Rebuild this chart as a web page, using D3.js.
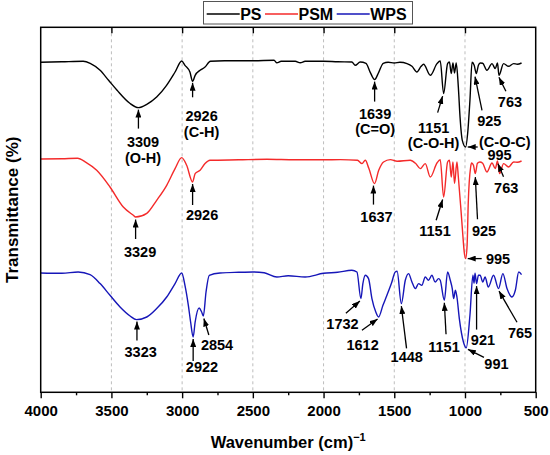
<!DOCTYPE html>
<html lang="en">
<head>
  <meta charset="UTF-8">
  <title>FTIR spectra PS / PSM / WPS</title>
  <script src="https://d3js.org/d3.v7.min.js"></script>
  <style>
    body { margin: 0; background: #fff; }
    text { font-family: "Liberation Sans", Arial, sans-serif; font-weight: bold; }
  </style>
</head>
<body>
  <div id="my_dataviz"></div>
  <script>
    // Spectra: wavenumber (cm-1) and transmittance (a.u., curves offset)
    var psWave = [4000,3850,3700,3650,3580,3520,3460,3370,3309,3250,3180,3110,3050,3003,2980,2945,2926,2908,2873,2840,2800,2700,2500,2350,2330,2300,2200,2165,2130,2000,1900,1800,1776,1741,1700,1670,1639,1610,1578,1543,1500,1460,1410,1375,1340,1310,1293,1245,1198,1175,1151,1123,1110,1097,1085,1074,1062,1047,1035,1019,995,981,965,950,935,920,905,892,875,845,809,786,770,760,727,692,656,630,600];
    var psT    = [330,330.5,331,329,322,312,302,289,284.7,288,295.3,307,320.3,331.3,327,320.3,311,317,322,325,331,331.5,331.5,332,329.5,331,331,329.5,331,331,330.5,330.3,327,330.3,329,320,312.7,320,329,330,329.3,330,328.7,326,320.3,326,328,317,328.7,331.3,298.7,328.7,330.3,318.7,329.3,319.3,329.3,305.3,275.3,252,245.3,259,292,330,327,318.7,327,329.3,329,322,328.7,323.7,329.3,317,328.7,326,328.7,328,329.3];

    var psmWave = [4000,3850,3740,3680,3604,3510,3416,3345,3329,3250,3180,3109,3050,3003,2968,2926,2908,2873,2838,2803,2600,2400,2200,2000,1882,1760,1728,1705,1680,1640,1610,1576,1528,1480,1387,1350,1316,1281,1245,1198,1175,1151,1123,1110,1097,1085,1074,1057,1047,1030,1016,1005,995,985,977,960,953,940,927,912,895,875,845,809,786,770,755,727,692,656,630,600];
    var psmT    = [233.3,233.5,234,230,222,205.3,185.3,177,175.3,179,192,207,223.7,234.7,227,210.3,218.7,222,228.7,232,232.5,233,232.5,232.5,232.7,232,228.7,232,224,208.7,222,230.3,232.7,231,232,229,223.7,228.7,215.3,229.3,232.5,195.3,230.3,232,215.3,230.3,208.7,230.3,215.3,185.3,158.7,140,133.7,147,189,225.3,229.3,227,218.7,229,230.3,229,220.3,229.3,223.7,231.3,218.7,228.7,225.3,230.3,230,231.3];

    var wpsWave = [4000,3850,3735,3651,3580,3510,3439,3368,3323,3250,3180,3109,3050,3003,2980,2956,2940,2922,2908,2880,2862,2850,2831,2808,2732,2600,2500,2420,2330,2250,2130,2000,1900,1800,1764,1736,1722,1705,1682,1658,1630,1611,1580,1552,1520,1493,1480,1450,1422,1399,1375,1351,1328,1305,1281,1258,1234,1211,1187,1175,1146,1123,1104,1090,1080,1068,1057,1040,1011,991,965,944,936,929,918,905,893,874,858,835,798,763,732,703,668,644,620,600];
    var wpsT    = [119.3,119,120.3,117.7,108.7,97,85.3,76.3,72.7,75.3,83.7,95.3,108.7,119.3,107,87,70.3,55.3,70.3,84.3,80.3,76.3,100.3,117,119.3,120,120.3,119.5,115.3,116.5,115.3,119,120,122,120.3,93.7,108.7,117,113.7,93.7,80,75.3,87,97,109,120.3,121,88.7,112,118.7,110.3,103.7,108.7,107,115.3,112,117,110.3,113.7,112,92,120.3,112,103.7,93.7,102,95.3,73.7,50.3,44.5,77,117,109,119,108.7,117,117,110.3,115.3,105.3,117,103.7,118.7,103.7,95.3,102,120.3,117.7];

    var seriesNames = ["PS", "PSM", "WPS"];
    var seriesColors = ["#000000", "#f42a2a", "#1616b8"];
    var xTicks = [4000, 3500, 3000, 2500, 2000, 1500, 1000, 500];
    var xMinorTicks = [3750, 3250, 2750, 2250, 1750, 1250, 750];

    // Peak labels: series, labelled wavenumber, text lines
    var peakSeries = ["PS","PS","PS","PS","PS","PS","PS","PSM","PSM","PSM","PSM","PSM","PSM","PSM","WPS","WPS","WPS","WPS","WPS","WPS","WPS","WPS","WPS","WPS"];
    var peakWave   = [3309,2926,1639,1151,995,925,763,3329,2926,1637,1151,925,763,995,3323,2922,2854,1732,1612,1448,1151,921,765,991];
    var peakText   = [["3309","(O-H)"],["2926","(C-H)"],["1639","(C=O)"],["1151","(C-O-H)"],["(C-O-C)","995"],["925"],["763"],
                      ["3329"],["2926"],["1637"],["1151"],["925"],["763"],["995"],
                      ["3323"],["2922"],["2854"],["1732"],["1612"],["1448"],["1151"],["921"],["765"],["991"]];

    // Arrow / label placement, pixel offsets from the peak point: tip, tail, label centre, line height
    var peakLayout = [
      {tip:[0,2],    tail:[0,21],     label:[4.6,33.7],  lh:16},
      {tip:[0,1.5],  tail:[0,16],     label:[9,34.5],    lh:16},
      {tip:[0,2],    tail:[0,22],     label:[0.5,34.5],  lh:15},
      {tip:[-1,2.5], tail:[-6,19],    label:[-10,34.3],  lh:14.5},
      {tip:[2,0],    tail:[12,0],     label:[36.5,-5.5], lh:13, ldx:[2.6,-2.6]},
      {tip:[-1.3,3], tail:[5.7,36.7], label:[13,46.7],   lh:15},
      {tip:[0,2],    tail:[7,16],     label:[11,26],     lh:15},
      {tip:[0,2.5],  tail:[0,22],     label:[4.5,35],    lh:15},
      {tip:[0,2],    tail:[0,23],     label:[9.5,32.3],  lh:15},
      {tip:[-1,2],   tail:[-1,21],    label:[2,32.7],    lh:15},
      {tip:[-1,2.5], tail:[-7.5,23.3],label:[-8.6,33.3], lh:15},
      {tip:[0,3.5],  tail:[2.2,45.7], label:[8.7,56.7],  lh:15},
      {tip:[0.5,2.7],tail:[6,15.7],   label:[8.7,26.7],  lh:15},
      {tip:[2,0],    tail:[16,0],     label:[32.3,0.2],  lh:15},
      {tip:[0.5,2],  tail:[0.5,21],   label:[4.2,32.2],  lh:15},
      {tip:[0,2],    tail:[0,24],     label:[8.8,29.3],  lh:15},
      {tip:[0.5,2.5],tail:[5.5,19],   label:[13.7,28.8], lh:15},
      {tip:[-1,2.5], tail:[-15,14.7], label:[-18.4,25.2],lh:15},
      {tip:[-1,2],   tail:[-16.6,13.3],label:[-16,27.3], lh:15},
      {tip:[0,2.5],  tail:[5.2,44.7], label:[5.4,52.7],  lh:15},
      {tip:[0,2.5],  tail:[1.7,34],   label:[-0.3,46],   lh:15},
      {tip:[0,2.5],  tail:[0,46],     label:[6.4,55.7],  lh:15},
      {tip:[0.5,2.5],tail:[18.5,33.7],label:[21.5,43.7], lh:15},
      {tip:[1.7,1.5],tail:[17.7,9.5], label:[30.2,15.5], lh:15}
    ];

    var spectra = {
      PS:  psWave.map(function(w, i) { return {w: w, t: psT[i]}; }),
      PSM: psmWave.map(function(w, i) { return {w: w, t: psmT[i]}; }),
      WPS: wpsWave.map(function(w, i) { return {w: w, t: wpsT[i]}; })
    };

    var W = 550, H = 455;
    var margin = {top: 27.3, right: 14.3, bottom: 62.7, left: 40.7},
        width = W - margin.left - margin.right,
        height = H - margin.top - margin.bottom;

    var svg = d3.select("#my_dataviz")
      .append("svg")
        .attr("width", W)
        .attr("height", H);

    var defs = svg.append("defs");
    defs.append("marker")
        .attr("id", "head")
        .attr("markerUnits", "userSpaceOnUse")
        .attr("viewBox", "0 0 8 6")
        .attr("refX", 8)
        .attr("refY", 3)
        .attr("markerWidth", 8)
        .attr("markerHeight", 6)
        .attr("orient", "auto")
      .append("path")
        .attr("d", "M0,0 L8,3 L0,6 Z")
        .attr("fill", "#000");

    var g = svg.append("g")
        .attr("transform", "translate(" + margin.left + "," + margin.top + ")");

    var x = d3.scaleLinear().domain([4000, 500]).range([0, width]);
    var y = d3.scaleLinear().domain([0, 365]).range([height, 0]);

    // dashed vertical grid
    g.append("g")
      .selectAll("line")
      .data(xTicks.slice(1, -1))
      .enter().append("line")
        .attr("x1", function(d) { return x(d); })
        .attr("x2", function(d) { return x(d); })
        .attr("y1", 0)
        .attr("y2", height)
        .attr("stroke", "#bdbdbd")
        .attr("stroke-width", 1)
        .attr("stroke-dasharray", "3,3");

    // spectra
    var line = d3.line()
        .x(function(d) { return x(d.w); })
        .y(function(d) { return y(d.t); })
        .curve(d3.curveMonotoneX);

    seriesNames.forEach(function(name, i) {
      g.append("path")
        .datum(spectra[name])
        .attr("fill", "none")
        .attr("stroke", seriesColors[i])
        .attr("stroke-width", 1.4)
        .attr("stroke-linejoin", "round")
        .attr("d", line);
    });

    // peak arrows and labels
    peakWave.forEach(function(w, i) {
      var pts = spectra[peakSeries[i]];
      var p = pts.reduce(function(a, b) { return Math.abs(b.w - w) < Math.abs(a.w - w) ? b : a; });
      var px = x(p.w), py = y(p.t), L = peakLayout[i];
      g.append("line")
        .attr("x1", px + L.tail[0]).attr("y1", py + L.tail[1])
        .attr("x2", px + L.tip[0]).attr("y2", py + L.tip[1])
        .attr("stroke", "#000")
        .attr("stroke-width", 1.3)
        .attr("marker-end", "url(#head)");
      var txt = g.append("text")
        .attr("text-anchor", "middle")
        .style("font-size", "14.5px")
        .attr("fill", "#000");
      peakText[i].forEach(function(s, k) {
        txt.append("tspan")
          .attr("x", px + L.label[0] + (L.ldx ? L.ldx[k] : 0))
          .attr("y", py + L.label[1] + k * L.lh)
          .attr("dy", "0.36em")
          .text(s);
      });
    });

    // axes
    var bottom = g.append("g")
        .attr("transform", "translate(0," + height + ")")
        .call(d3.axisBottom(x).tickValues(xTicks).tickSize(6).tickPadding(7).tickFormat(d3.format("d")));
    bottom.selectAll("text").style("font-size", "15px").attr("fill", "#000");
    bottom.select(".domain").remove();

    g.append("g")
        .attr("transform", "translate(0," + height + ")")
        .call(d3.axisBottom(x).tickValues(xMinorTicks).tickSize(3).tickFormat(""))
        .select(".domain").remove();

    g.append("g")
        .call(d3.axisTop(x).tickValues(xTicks.slice(1, -1)).tickSize(-6).tickFormat(""))
        .select(".domain").remove();

    g.selectAll(".tick line").attr("stroke", "#000").attr("stroke-width", 1.4);

    g.append("rect")
        .attr("width", width)
        .attr("height", height)
        .attr("fill", "none")
        .attr("stroke", "#000")
        .attr("stroke-width", 1.5);

    // axis titles
    var xt = svg.append("text")
        .attr("x", margin.left + width / 2)
        .attr("y", 448)
        .attr("text-anchor", "middle")
        .style("font-size", "16.5px");
    xt.append("tspan").text("Wavenumber (cm)");
    xt.append("tspan").attr("dy", "-7").style("font-size", "11px").text("\u22121");

    svg.append("text")
        .attr("transform", "translate(18," + (margin.top + height / 2) + ") rotate(-90)")
        .attr("text-anchor", "middle")
        .style("font-size", "17px")
        .text("Transmittance (%)");

    // legend
    var leg = svg.append("g");
    leg.append("rect")
        .attr("x", 203.5).attr("y", 1.5)
        .attr("width", 209).attr("height", 22.5)
        .attr("fill", "#fff")
        .attr("stroke", "#555")
        .attr("stroke-width", 1);
    var legX = [206.7, 265, 336.7];
    seriesNames.forEach(function(name, i) {
      leg.append("line")
        .attr("x1", legX[i]).attr("x2", legX[i] + 33)
        .attr("y1", 14).attr("y2", 14)
        .attr("stroke", seriesColors[i])
        .attr("stroke-width", 1.4);
      leg.append("text")
        .attr("x", legX[i] + 33.5)
        .attr("y", 20)
        .style("font-size", "16px")
        .text(name);
    });
  </script>
</body>
</html>
